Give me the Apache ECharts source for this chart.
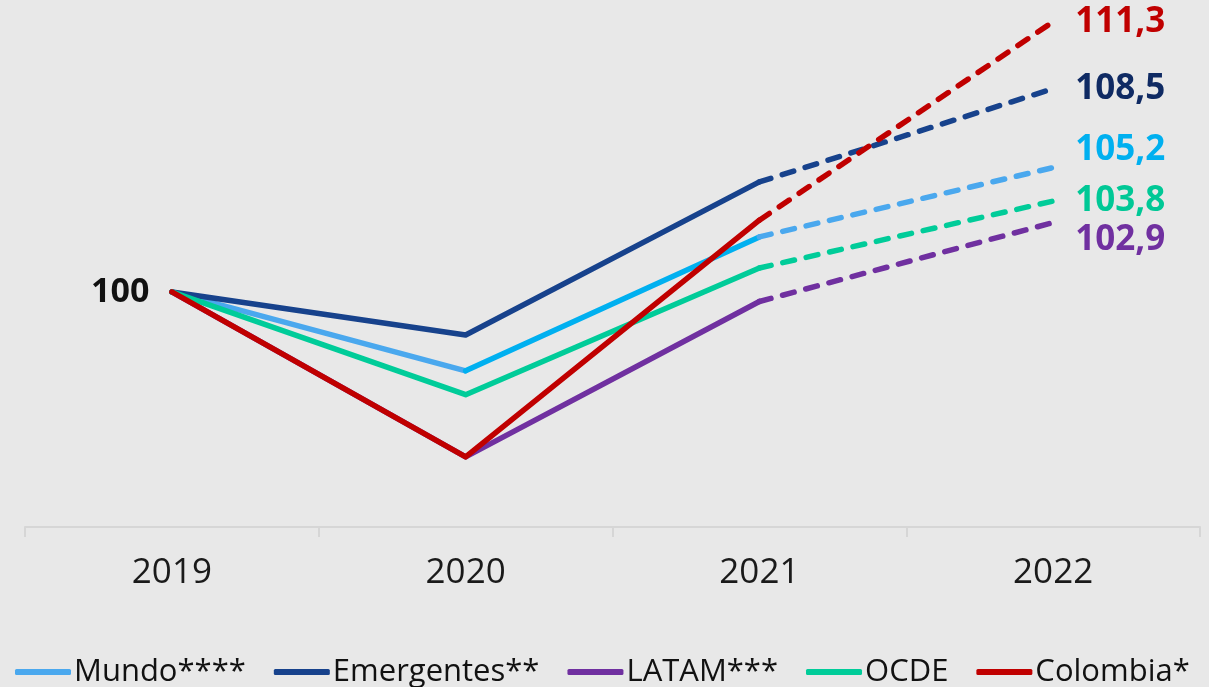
<!DOCTYPE html>
<html>
<head>
<meta charset="utf-8">
<script src="https://cdn.jsdelivr.net/npm/echarts@6/dist/echarts.min.js"></script>
<style>
html,body{margin:0;padding:0;background:#e8e8e8;}
#c{width:1209px;height:687px;}
</style>
</head>
<body>
<div id="c"></div>
<script>
const years = ['2019', '2020', '2021', '2022'];
const mundo = [100, 96.7, 102.3, 105.2];
const emergentes = [100, 98.2, 104.6, 108.5];
const latam = [100, 93.1, 99.6, 102.9];
const ocde = [100, 95.7, 101.0, 103.8];
const colombia = [100, 93.1, 103.0, 111.3];
const names = ['Mundo****', 'Emergentes**', 'LATAM***', 'OCDE', 'Colombia*'];

const FONT = 'Open Sans';
const LW = 5.5;
const cMundo = '#4aa8ee', cMundo2 = '#00b0f0', cEm = '#17428c', cLat = '#7030a0', cOcde = '#00cc99', cCol = '#c00000';

function seg(arr, from, to) {
  return arr.map((v, i) => (i >= from && i <= to) ? v : null);
}
function fmt(v) { return String(v.toFixed(1)).replace('.', ','); }

function solid(name, color, data, z) {
  return { name, type: 'line', data, z, color, showSymbol: false, symbol: 'none', connectNulls: false,
    lineStyle: { width: LW, color, cap: 'round', join: 'round' }, emphasis: { disabled: true }, animation: false };
}
function dashed(name, color, arr, labelColor, offY, z) {
  return { name, type: 'line', data: seg(arr, 2, 3), z, color, showSymbol: false, symbol: 'none',
    lineStyle: { width: LW, color, type: [12, 12], cap: 'round' }, emphasis: { disabled: true }, animation: false,
    endLabel: { show: true, formatter: p => fmt(p.value), color: labelColor, fontFamily: FONT, fontWeight: 'bold',
      fontSize: 35, distance: 22, offset: [0, offY] } };
}

const series = [
  solid(names[0], cMundo, seg(mundo, 0, 1), 2),
  solid('Mundo-b', cMundo2, seg(mundo, 1, 2), 2),
  dashed('Mundo-c', cMundo, mundo, '#00b0f0', -18, 2),
  solid(names[1], cEm, seg(emergentes, 0, 2), 3),
  dashed('Em-c', cEm, emergentes, '#0f2a63', 0, 3),
  solid(names[2], cLat, seg(latam, 0, 2), 4),
  dashed('Lat-c', cLat, latam, cLat, 17, 4),
  solid(names[3], cOcde, seg(ocde, 0, 2), 5),
  dashed('Ocde-c', cOcde, ocde, '#00c896', 0, 5),
  solid(names[4], cCol, seg(colombia, 0, 2), 6),
  dashed('Col-c', cCol, colombia, cCol, 0, 6),
  { name: 'start', type: 'line', z: 7, symbol: 'circle', symbolSize: 1, showSymbol: true,
    lineStyle: { width: 0, color: 'transparent' },
    itemStyle: { color: 'transparent', borderWidth: 0 }, silent: true, animation: false,
    data: colombia.map((v, i) => i === 0 ? { value: v, label: { show: true, position: 'left', distance: 22,
      formatter: String(v), color: '#111', fontFamily: FONT, fontWeight: 'bold', fontSize: 34 } } : null) }
];

const chart = echarts.init(document.getElementById('c'), null, { renderer: 'canvas' });
chart.setOption({
  backgroundColor: '#e8e8e8',
  animation: false,
  grid: { left: 25, right: 9, top: 5, bottom: 156, containLabel: false },
  xAxis: { type: 'category', data: years, boundaryGap: true, offset: -4,
    axisLine: { lineStyle: { color: '#d6d6d6', width: 2 } },
    axisTick: { show: true, length: 10, lineStyle: { color: '#d6d6d6', width: 2 } },
    axisLabel: { color: '#1a1a1a', fontFamily: FONT, fontSize: 35, margin: 29 } },
  yAxis: { type: 'value', min: 90, max: 112, show: false, splitLine: { show: false } },
  legend: { data: names, top: 650, left: 10, width: 1500, itemWidth: 56, itemHeight: 6, itemGap: 28, icon: 'roundRect',
    textStyle: { color: '#111', fontFamily: FONT, fontSize: 31, lineHeight: 34, padding: [0, 0, 0, -2] } },
  series
});
</script>
</body>
</html>
